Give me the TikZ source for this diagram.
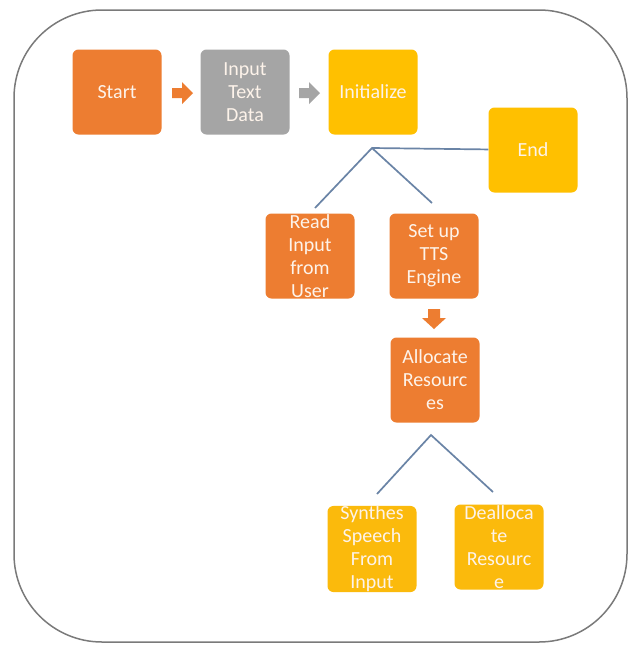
\documentclass[tikz,border=0pt]{standalone}
\usepackage{fontspec}
\setmainfont{Carlito}
\begin{document}
\begin{tikzpicture}[x=1pt,y=-1pt,
  box/.style={rounded corners=6pt, minimum width=89pt, minimum height=85pt, inner sep=0pt,
    align=center, text=txtc, font=\fontsize{20}{23}\selectfont},
  orangebox/.style={box, fill=orgc},
  graybox/.style={box, fill=gryc},
  goldbox/.style={box, fill=gldc},
  link/.style={draw=linkc, line width=1.7pt}
]
\definecolor{orgc}{HTML}{ED7D31}
\definecolor{gryc}{HTML}{A5A5A5}
\definecolor{gldc}{HTML}{FFC000}
\definecolor{gld2}{HTML}{FBBA0C}
\definecolor{txtc}{HTML}{FDF3EA}
\definecolor{linkc}{HTML}{6A84A6}
\definecolor{framec}{HTML}{7A7A7A}
\useasboundingbox (0,0) rectangle (630,646);
\fill[white] (0,0) rectangle (630,646);
\draw[framec, line width=1.5pt, rounded corners=88pt] (14,10) rectangle (627,642);

\node[orangebox] (start) at (117,92) {Start};
\node[graybox] (input) at (245,92) {Input\\Text\\Data};
\node[goldbox] (init) at (373,92) {Initialize};
\node[goldbox] (end) at (533,150) {End};
\node[orangebox] (read) at (310,256) {Read\\Input\\from\\User};
\node[orangebox] (tts) at (434,256) {Set up\\TTS\\Engine};
\node[orangebox] (alloc) at (435,380) {Allocate\\Resourc\\es};
\node[box, fill=gld2] (synth) at (372,549) {Synthes\\Speech\\From\\Input};
\node[box, fill=gld2] (dealloc) at (499,547) {Dealloca\\te\\Resourc\\e};

% block arrows
\fill[orgc] (172,88) -- (182,88) -- (182,82) -- (193,93) -- (182,104) -- (182,98) -- (172,98) -- cycle;
\fill[gryc] (299,88) -- (309,88) -- (309,82) -- (320,93) -- (309,104) -- (309,98) -- (299,98) -- cycle;
\fill[orgc] (428,309) -- (440,309) -- (440,318) -- (446,318) -- (434,329) -- (422,318) -- (428,318) -- cycle;

% tree links
\coordinate (apexA) at (372,148);
\coordinate (readtop) at (315,208);
\coordinate (ttstop) at (432,203);
\draw[link] (readtop) -- (apexA) -- (ttstop);
\draw[link] (apexA) -- (end);
\coordinate (apexB) at (431,435);
\coordinate (synthtop) at (377,494);
\coordinate (dealloctop) at (493,492);
\draw[link] (synthtop) -- (apexB) -- (dealloctop);
\end{tikzpicture}
\end{document}
